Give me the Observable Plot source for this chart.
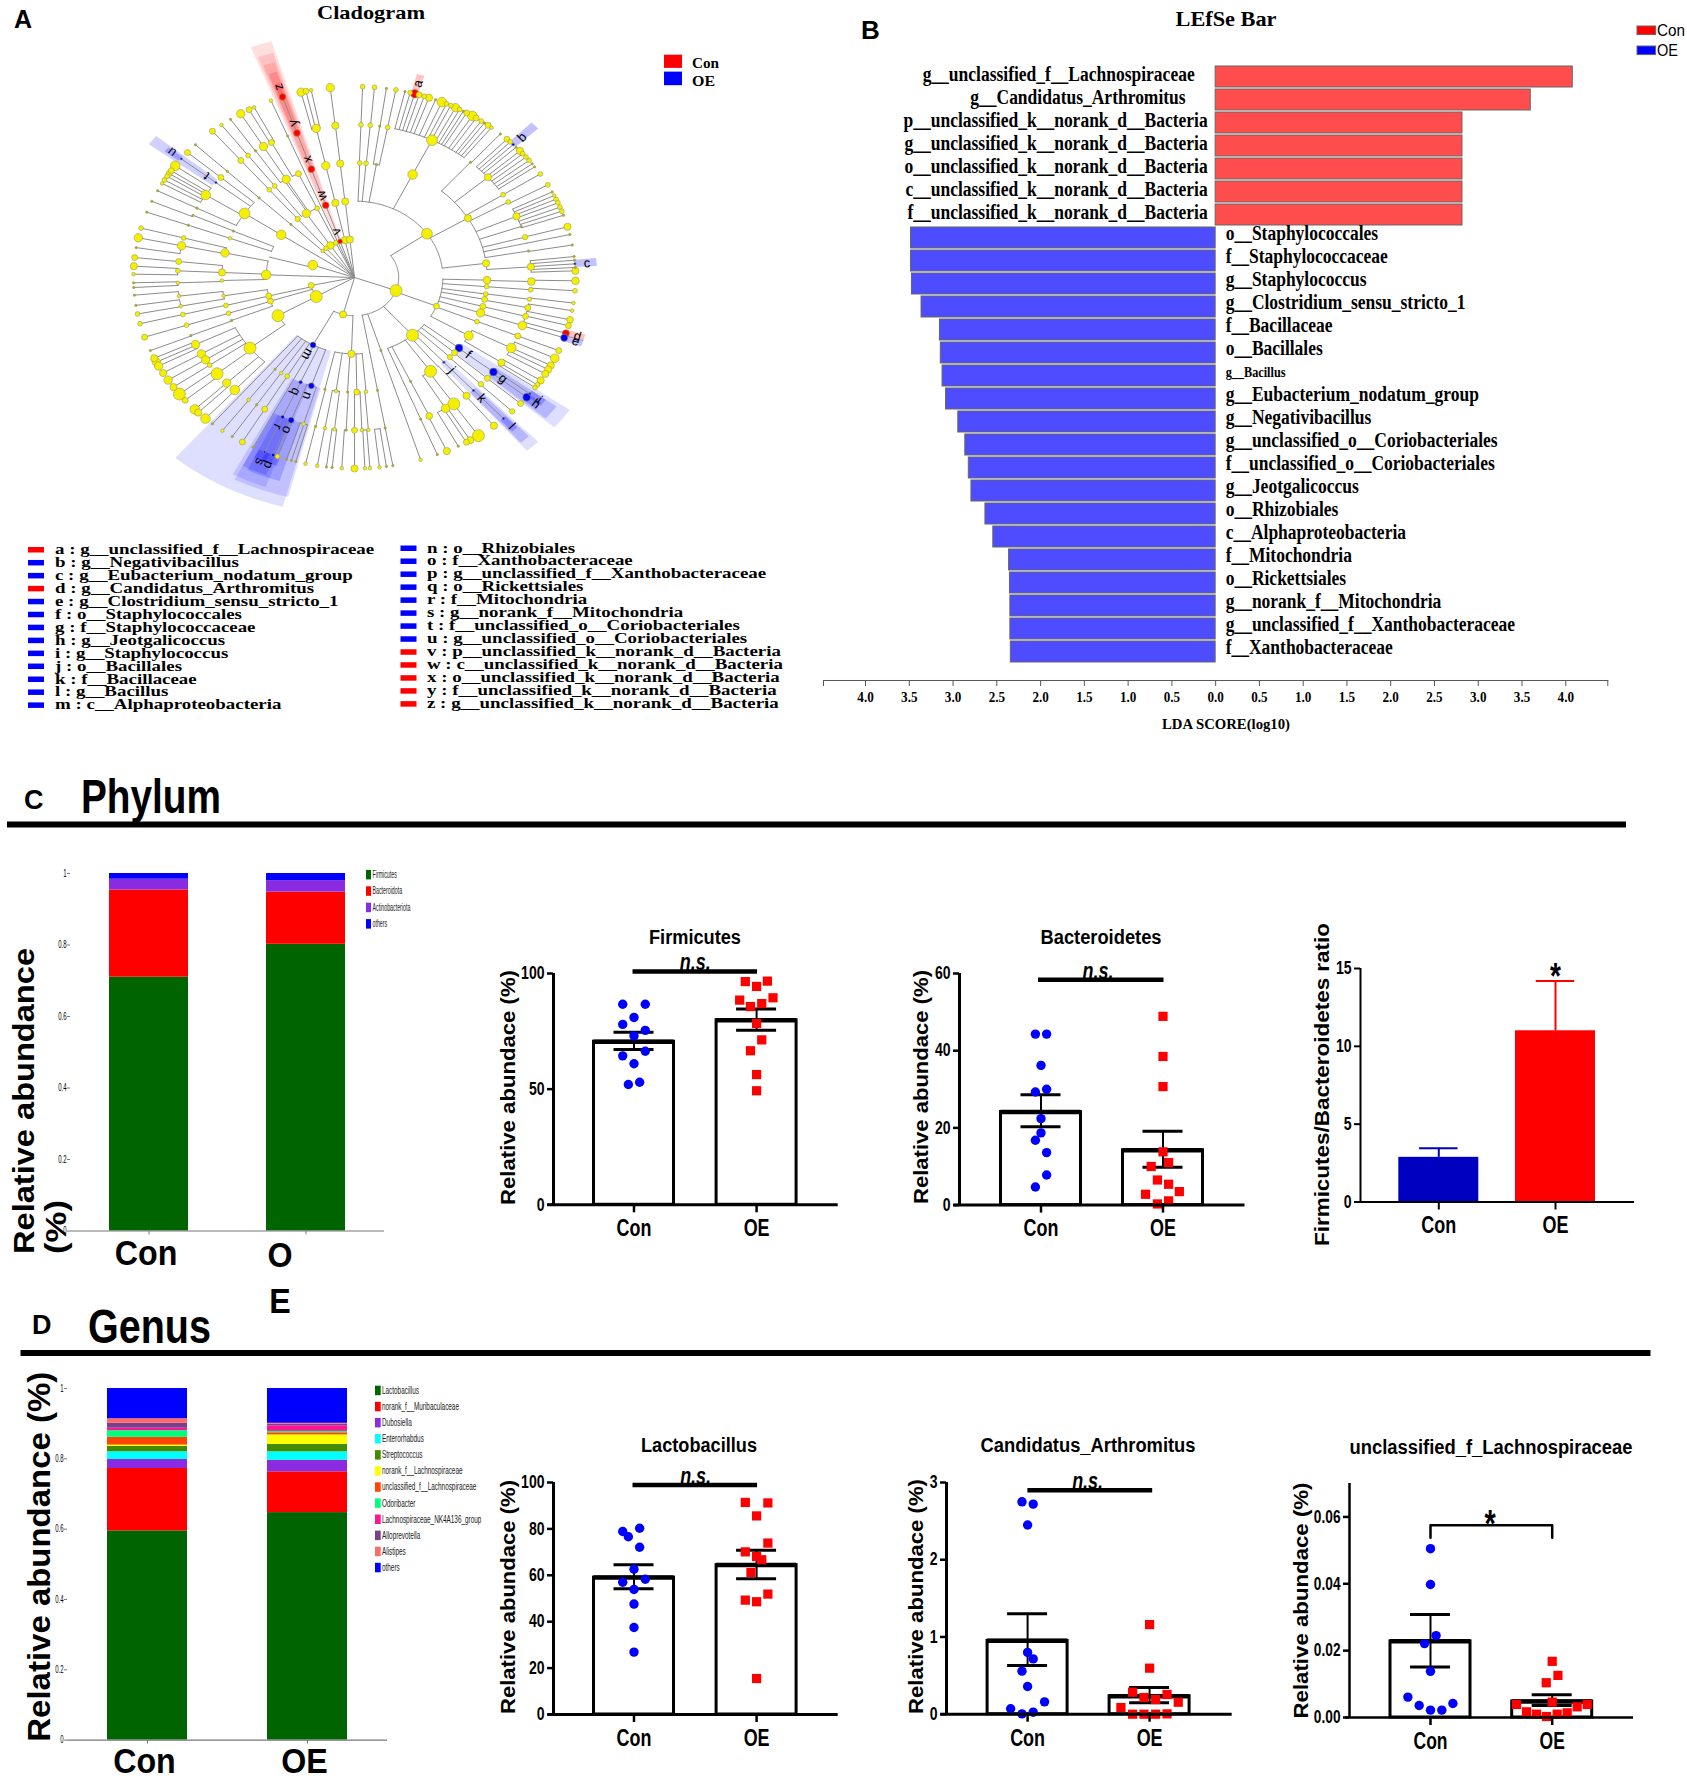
<!DOCTYPE html>
<html><head><meta charset="utf-8">
<script src="https://cdn.jsdelivr.net/npm/d3@7"></script>
<script src="https://cdn.jsdelivr.net/npm/@observablehq/plot@0.6"></script>
<style>
html,body{margin:0;padding:0;background:#fff}
#page{position:relative;width:1687px;height:1782px;overflow:hidden;background:#fff}
#page>svg,#page>div{position:absolute}
</style></head><body><div id="page"></div>
<script>
// ---------- DATA ----------
const groups = ["Con","OE"];
// Panel A: tree as [angle, abundance class, children, biomarker letter]
const cladeTree = [
 [110,5,[
  [55,4.5,[
   [2.3,2,[[2.1,2,[[2.1,2]]]]],
   [5,2,[[5.1,2,[[5.2,2]]]]],
   [9.5,1,[[8.2,1,[[8.3,1]]],[10.8,2,[[10.8,2]]]]],
   [26,4,[[26,4.5,[[13.2,1],[14.6,2],[15.8,3.5,[],"a"],[17,2.5],[18.4,2],[19.7,3],[21.5,1],[23.3,4],[24.6,2],[25.8,2],[27.2,3.5],[28.4,2],[29.5,1],[30.5,2.5],[32.2,4],[33.4,2.5],[35,2],[36,1],[37.2,2.5],[38.3,1.5]]]]],
   [58.8,3,[
    [41,1,[[41.3,1]]],
    [49,3,[[43.6,2.5],[44.8,2],[45.9,1.2,[],"b"],[47,1],[48.5,3],[49.6,2],[50.9,2],[52.2,2],[53.5,1],[54.6,1]]],
    [57.2,2,[[57.2,2]]],
    [60.4,2,[[61,2]]],
    [66.4,3,[[63.4,1],[64.6,1.5],[65.8,2],[67,2],[68.4,2],[69.7,2]]],
    [70.5,1,[[71,1]]],
    [74.7,2.2,[[74.6,3]]],
    [77,0,[[77,1]]],
    [80,1,[[80.2,1]]]]],
   [82.9,3,[[86,3,[[83.7,1],[84.8,1],[85.9,1,[],"c"],[87,1],[88,3]]]]]]],
  [112,2.5,[
   [91.3,3.2,[[91.5,3.2,[[91,3.2]]]]],
   [94.6,2,[[94.6,2,[[94,2]]]]],
   [98.3,2,[[98.2,1.8,[[97.7,1.5]]]]],
   [101,2.5,[[101.4,2.5,[[100,1.5]]]]],
   [104.6,2.5,[[104.7,2.5,[[102.8,2.8]]]]],
   [108,3.4,[[108.3,3.6,[[104.6,2.5],[107,3,[],"d"],[108.4,3,[],"e"]]]]],
   [112.6,2,[[112.5,2.5,[[112.5,2.5]]]]],
   [120.5,3.8,[[117.5,4,[[115,3.6],[117.4,3],[118.8,3],[120.3,3]]],[123.8,3,[[122.6,3],[124.2,2],[125.2,2]]]]]]],
  [139,5,[
   [128,3.3,[[128.2,3.3,[[127.5,1,[],"i"],[128.8,3.3,[],"h"]],"g"]],"f"],
   [131,2.5,[[131.3,2.5,[[131.3,2.5]]]]],
   [134,2.2,[[134.3,2.2,[[134.5,2.2]]]]],
   [137.6,1,[[137.7,1,[[137.6,1,[],"l"]],"k"]],"j"],
   [141,0,[[140.7,3,[[140.9,3]]]]],
   [145,5,[[145.8,5,[[145.9,5],[148.4,3]]],[149,3.5,[[149.6,2.5],[152,1]]]]],
   [155,1,[[155,2.8,[[155.3,3]]]]],
   [158,0,[[158,1,[[158,1]]]]]]],
  [162.6,1,[[162.6,0,[[162.6,0,[[162.6,1.5]]]]]]],
  [170,0,[[170,1,[[170,1,[[170,1]]]]]]]]],
 [195,3,[
  [182,3,[
   [192.9,1,[[192.7,1,[[192.8,1.5]]]]],
   [188,1.5,[[189.6,1.5,[[189.7,1.5]]],[186.5,1.5,[[187.3,1],[185.8,1]]]]],
   [183,1,[[182.7,1,[[183.3,1.5]]]]],
   [179,2.5,[[180,2.5,[[180,3]]],[177.6,1.5,[[177.3,1.5],[176,1.5]]]]],
   [175,1.5,[[175.5,1.5,[[173.5,1.5],[171.7,1]]]]]]],
  [208,2.5,[
   [199,2.5,[[201,2.5,[[201.6,1.5,[],"p"],[200.4,2]],"o"],[196.7,1.5,[[197.9,1],[196.6,1],[195.4,1]]]],"n"],
   [204,1.5,[[204,1.5,[[204,1,[],"s"]],"r"]],"q"],
   [207.3,0,[[207.3,0,[[207.3,1]]]]],
   [210.5,2,[[210.5,2.5,[[210.5,2.5]]]]],
   [213.5,1.5,[[213.6,1,[[213.6,1]]]]],
   [216.8,1,[[216.8,1.5,[[216.7,1.5]]]]],
   [220,0,[[220,0,[[220,1]]]]]],"m"]]],
 [240,5,[
  [240,5,[[232,5,[
    [244,3.5,[[245,3],[243.7,3.5],[242.4,3.5]]],
    [240,3.5,[[240,3]]],
    [237.4,3.5,[[237.5,3.5]]],
    [235,2,[[235,3]]],
    [231,5,[[232.4,5],[230,2.5]]],
    [226.3,3.5,[[226.3,4],[225,3]]],
    [222.6,4,[[222.4,4]]]]]]],
  [252,2.5,[[248,1,[[247.7,1,[[247.5,1]]]]],[251.8,2,[[251.8,2,[[251.8,2.5]]]]]]]]],
 [258,2.5,[[256,2.5,[[255.9,2,[[256,2,[[256,2]]]]],[260.8,1.5,[[259.2,1.5,[[259,2],[261.6,1]]],[263,1.5,[[264.7,1]]]]]]]]],
 [272,0,[[272,4,[
   [268.5,1.5,[[268,1.5,[[268.4,1],[267,1]]]]],
   [272.5,3,[[272.5,2,[[273.4,3],[271,1.5]]],[276,2.5,[[276,2.5]]]]],
   [282.4,3.5,[[282,3.5,[[282,3.5],[279,1]]],[285,2,[[285,2]]]]]]]]],
 [289,4,[[285.5,0,[[290,1.5,[[290,1,[[290,1]]]]],[293.9,1,[[294,1,[[293.5,1]]]]]]]]],
 [304,0,[[304,4,[[304,4.5,[
   [297,1,[[297,1]]],
   [302.7,4,[[299.5,1.5],[300.7,2],[302,2],[303,2.5],[304,2.5],[305.8,4]]],
   [308.4,1,[[308.4,1,[],"u"]],"t"],
   [310.9,2.5,[[310.9,2.5]]]]]]]]],
 [314,1.5,[[314,1,[[314,1,[[314,1,[[314,1]]]]]]]]],
 [320,2,[[320,2.2,[[320,2,[[320,2.5,[[320,2.5]]]]]]]]],
 [327,3.2,[[327,3.5,[[329,3.5,[[329,3.5,[[329,3.5]]]]]]]]],
 [335,2,[[335,2,[[335,2.5,[[332,2.5,[[331.5,2.5],[333,1.5]]]]],[323,2,[[323,2,[[323,1.5]]]]],[328,0,[[326,1,[[325.9,1]]]]]]]]],
 [337.8,0,[[337.8,0,[[337.8,0,[[337.8,1,[[337.8,1.5]]]]]]]]],
 [341,2,[[341,2.8,[[341,2.8,[[341,2.8,[[341,2.8,[],"z"]],"y"]],"x"]],"w"]],"v"],
 [347.5,3,[[347.5,3,[[347.5,3.5,[[347.5,3.5,[[346,3.5],[347.3,2.5],[348.7,1.5]]]]]]]]],
 [354,3,[[354,3,[[353.8,3,[[353.8,3,[[353.7,3.5]]]]]]]]]
];
const biomarkerCon = ["a","d","v","w","x","y","z"];
const wedgeLetters = ["m","n","o","p","q","r","s","f","g","h","i","j","k","l","t","u","v","w","x","y","z","a","b","c","d","e"];
const wedgeFrom    = [195,194.5,197.5,199.5,200,201,202.5,125.5,126.5,127.8,126.5,136,136.5,136.8,306.8,307.5,338.8,339.3,339.7,340,340.4,15,44.8,84.8,106,107.6];
const wedgeTo      = [220.5,207,205.5,203.5,208,207,205.5,131,130.5,130,128.5,139.3,139,138.5,309.5,309,343.2,342.7,342.3,342,341.6,16.8,47,87,108,109.5];
const wedgeOuter   = [1.245,1.19,1.12,1.05,1.17,1.11,1.05,1.2,1.14,1.07,1.08,1.2,1.15,1.08,1.16,1.08,1.29,1.23,1.18,1.13,1.07,1.1,1.14,1.1,1.09,1.09];
const legendLeft = ["a : g__unclassified_f__Lachnospiraceae","b : g__Negativibacillus","c : g__Eubacterium_nodatum_group","d : g__Candidatus_Arthromitus","e : g__Clostridium_sensu_stricto_1","f : o__Staphylococcales","g : f__Staphylococcaceae","h : g__Jeotgalicoccus","i : g__Staphylococcus","j : o__Bacillales","k : f__Bacillaceae","l : g__Bacillus","m : c__Alphaproteobacteria"];
const legendRight = ["n : o__Rhizobiales","o : f__Xanthobacteraceae","p : g__unclassified_f__Xanthobacteraceae","q : o__Rickettsiales","r : f__Mitochondria","s : g__norank_f__Mitochondria","t : f__unclassified_o__Coriobacteriales","u : g__unclassified_o__Coriobacteriales","v : p__unclassified_k__norank_d__Bacteria","w : c__unclassified_k__norank_d__Bacteria","x : o__unclassified_k__norank_d__Bacteria","y : f__unclassified_k__norank_d__Bacteria","z : g__unclassified_k__norank_d__Bacteria"];
// Panel B
const ldaNames = ["g__unclassified_f__Lachnospiraceae","g__Candidatus_Arthromitus","p__unclassified_k__norank_d__Bacteria","g__unclassified_k__norank_d__Bacteria","o__unclassified_k__norank_d__Bacteria","c__unclassified_k__norank_d__Bacteria","f__unclassified_k__norank_d__Bacteria","o__Staphylococcales","f__Staphylococcaceae","g__Staphylococcus","g__Clostridium_sensu_stricto_1","f__Bacillaceae","o__Bacillales","g__Bacillus","g__Eubacterium_nodatum_group","g__Negativibacillus","g__unclassified_o__Coriobacteriales","f__unclassified_o__Coriobacteriales","g__Jeotgalicoccus","o__Rhizobiales","c__Alphaproteobacteria","f__Mitochondria","o__Rickettsiales","g__norank_f__Mitochondria","g__unclassified_f__Xanthobacteraceae","f__Xanthobacteraceae"];
const ldaScores = [4.08,3.6,2.82,2.82,2.82,2.82,2.82,-3.48,-3.48,-3.47,-3.36,-3.15,-3.14,-3.12,-3.08,-2.94,-2.86,-2.82,-2.79,-2.63,-2.54,-2.36,-2.35,-2.345,-2.345,-2.34];
// Stacks
const phylumTaxa = ["Firmicutes","Bacteroidota","Actinobacteriota","others"];
const phylumColors = ["#006400","#ff0000","#8a2be2","#0000ff"];
const phylumCon = [.71,.244,.03,.016];
const phylumOE = [.802,.146,.032,.02];
const genusTaxa = ["Lactobacillus","norank_f__Muribaculaceae","Dubosiella","Enterorhabdus","Streptococcus","norank_f__Lachnospiraceae","unclassified_f__Lachnospiraceae","Odoribacter","Lachnospiraceae_NK4A136_group","Alloprevotella","Alistipes","others"];
const genusColors = ["#006400","#ff0000","#8a2be2","#00ffff","#458b00","#ffff00","#ff4500","#00ff7f","#ff1493","#7b3f8f","#ff6a6a","#0000ff"];
const genusCon = [.595,.1775,.0255,.022,.015,.004,.022,.019,.007,.014,.013,.086];
const genusOE = [.647,.116,.033,.024,.021,.027,.006,.004,.016,.004,.003,.099];
// Dot + bar panels
const firmConOff=[-.092,.092,0,-.092,.092,0,.092,-.092,0,.046,-.046], firmConVal=[86.7,86.7,81,78,75.4,73,66.4,64.4,61,53,52];
const firmOEOff=[-.092,.088,0,.134,-.138,.042,-.05,0,.042,-.05,0,0], firmOEVal=[96.5,96.7,94.4,89.5,88.5,87,85.7,78.4,71.3,66.6,56.3,49.3];
const firmMean=[70.5,79.8], firmLow=[67.1,75.5], firmHigh=[74.6,84.6];
const bactConOff=[-.046,.046,0,.046,-.046,0,0,-.046,.046,.046,-.046], bactConVal=[44.3,44.3,36.2,30,29.3,22.4,18.7,16.8,13.6,7.8,4.7];
const bactOEOff=[0,0,0,0,.046,-.097,-.046,.046,.134,-.143,.046,-.046], bactOEVal=[48.9,38.5,30.7,13.8,11,10,6.5,5.4,3.5,2.8,1.1,.3];
const bactMean=[24.1,14.2], bactLow=[20.3,9.8], bactHigh=[28.6,19.1];
const lactConOff=[.046,-.092,-.046,.046,0,.092,-.092,0,0,0,0], lactConVal=[80.3,78.9,76.6,72.1,62.6,58.3,57,53.9,47.6,37.5,26.9];
const lactOEOff=[-.092,.092,0,.092,-.092,0,.042,-.046,.092,-.092,0,0], lactOEVal=[91.4,91.2,85.6,73.9,70.1,68.1,66.7,61.2,51.9,49.3,48.6,15.5];
const lactMean=[59,64.4], lactLow=[54.2,58.5], lactHigh=[64.5,70.8];
const candConOff=[-.046,.046,0,0,.046,-.046,0,.139,-.139,.046,-.046], candConVal=[2.75,2.72,2.45,.8,.716,.557,.358,.16,.07,.026,.004];
const candOEOff=[0,0,-.139,.143,-.046,.05,.235,-.235,-.139,-.046,.05,.143], candOEVal=[1.16,.596,.285,.255,.216,.19,.155,.086,0,0,0,.004];
const candMean=[.95,.233], candLow=[.63,.147], candHigh=[1.3,.345];
const unclConOff=[0,0,.046,-.049,0,-.186,-.093,.184,0,.093], unclConVal=[.0505,.0398,.0245,.0221,.0138,.0061,.0036,.0042,.0022,.0022];
const unclOEOff=[0,.047,-.049,0,-.293,.288,.205,-.211,.123,.041,-.129,-.047], unclOEVal=[.0168,.0126,.0104,.0046,.0039,.0039,.0032,.0017,.0014,.001,.001,.0003];
const unclMean=[.0228,.0048], unclLow=[.0151,.0036], unclHigh=[.0308,.0068];
const ratioMean=[2.87,11], ratioHigh=[3.45,14.2];

// ---------- HELPERS ----------
const SANS='"Liberation Sans",Arial,sans-serif', SERIF='"Liberation Serif","Times New Roman",serif';
const page=document.getElementById("page");
const ov=d3.select(page).append("svg").attr("width",1687).attr("height",1782).style("left",0).style("top",0).style("z-index",2).style("pointer-events","none");
function fit(t,len,k){const L=len||t.getComputedTextLength()*k;t.setAttribute("textLength",L);t.setAttribute("lengthAdjust","spacingAndGlyphs");}
function T(x,y,s,o={}){
  const t=ov.append("text").attr("x",x).attr("y",y).text(s).attr("font-family",o.f||SANS).attr("font-size",o.s||16)
    .attr("font-weight",o.w||"bold").attr("text-anchor",o.a||"start").attr("fill",o.c||"#000");
  if(o.i)t.attr("font-style","italic");
  if(o.r!=null)t.attr("transform",`rotate(${o.r} ${x} ${y})`);
  if(o.len||o.k)fit(t.node(),o.len,o.k);
  return t;
}
function box(x,y,w,h,c,st){const r=ov.append("rect").attr("x",x).attr("y",y).attr("width",w).attr("height",h).attr("fill",c);if(st)r.attr("stroke",st).attr("stroke-width",1);}
function place(svg,left,top,k){
  svg.style.left=left+"px";svg.style.top=top+"px";svg.style.overflow="visible";svg.style.background="transparent";
  page.appendChild(svg);
  if(k)svg.querySelectorAll("text").forEach(t=>{
    const sp=t.querySelectorAll("tspan");
    const kk=typeof k==="function"?k(t):k;
    (sp.length?[...sp]:[t]).forEach(e=>{if(e.textContent)fit(e,null,kk);});
  });
}

// ---------- PANEL A ----------
const RX=221,RY=191,CX=354.3,CY=276.7;
const rad=a=>a*Math.PI/180;
const pol=(a,r)=>({x:r*Math.sin(rad(a)),y:r*Math.cos(rad(a))});
const nodes=[],segs=[];let sid=0;
function walk(n,level){
  const [a,size,kids,letter]=n, r=level*.2, r0=(level-1)*.2;
  const id0=sid++;
  segs.push({id:id0,...pol(a,r0)},{id:id0,...pol(a,r)});
  nodes.push({a,r,size,letter});
  if(kids&&kids.length){
    const as=kids.map(k=>k[0]).concat(kids.length>1?[]:[a]);
    const lo=d3.min(as),hi=d3.max(as);
    if(hi-lo>.01){const id=sid++;
      for(let t=lo;;t+=1.5){const q=Math.min(t,hi);segs.push({id,...pol(q,r)});if(q>=hi)break;}
    }
    kids.forEach(k=>walk(k,level+1));
  }
}
cladeTree.forEach(n=>walk(n,1));
const byLetter=new Map(nodes.filter(d=>d.letter).map(d=>[d.letter,d]));
const wedgePts=[];
wedgeLetters.forEach((l,i)=>{
  const n=byLetter.get(l), depth=Math.round(n.r/.2), op=depth>=5?.24:depth===4?.18:.13;
  for(let t=wedgeFrom[i];;t+=1){const q=Math.min(t,wedgeTo[i]);
    const p=pol(q,n.r),o=pol(q,wedgeOuter[i]);
    wedgePts.push({id:l,x1:p.x,y1:p.y,x2:o.x,y2:o.y,op,c:biomarkerCon.includes(l)?"#ff0000":"#0000ff"});
    if(q>=wedgeTo[i])break;}
});
const nodeColor=d=>d.letter?(biomarkerCon.includes(d.letter)?"#ff0000":"#0000ff"):(d.size<=1?"#b0ad20":"#f5f000");
const W=600,H=540;
place(Plot.plot({width:W,height:H,margin:0,
  x:{domain:[-W/2/RX,W/2/RX],axis:null},y:{domain:[-H/2/RY,H/2/RY],axis:null},
  r:{type:"linear",domain:[0,5],range:[0,6]},
  marks:[
   Plot.area(wedgePts,{x1:"x1",y1:"y1",x2:"x2",y2:"y2",z:"id",fill:"c",fillOpacity:"op"}),
   Plot.line(segs,{x:"x",y:"y",z:"id",stroke:"#8c8c8c",strokeWidth:1}),
   Plot.dot(nodes.filter(d=>d.size>0),{x:d=>pol(d.a,d.r).x,y:d=>pol(d.a,d.r).y,r:"size",fill:nodeColor,stroke:"#9a9a60",strokeWidth:.6}),
   Plot.text(nodes.filter(d=>d.letter),{x:d=>pol(d.a,d.r+.055).x,y:d=>pol(d.a,d.r+.055).y,text:"letter",rotate:d=>d.a-90,fontSize:13,fontFamily:SANS,fill:"#000"})
  ]}),CX-W/2,CY-H/2);
T(371,19,"Cladogram",{f:SERIF,s:19,a:"middle",len:108});
T(14,28,"A",{s:25});
box(664,54.7,18,13.2,"#ff0000");box(664,71.6,18,13.6,"#0000ff");
T(692,68,"Con",{f:SERIF,s:14,len:27});T(692,85.5,"OE",{f:SERIF,s:14,len:23});
legendLeft.forEach((s,i)=>{const y=550+i*12.95,c=biomarkerCon.includes(s[0])?"#ff0000":"#0000ff";
  box(28,y-3,16,5.5,c);T(55,y+4,s,{f:SERIF,s:15,k:1.26});});
legendRight.forEach((s,i)=>{const y=548.5+i*12.97,c=biomarkerCon.includes(s[0])?"#ff0000":"#0000ff";
  box(400.5,y-3,16,5.5,c);T(427,y+4,s,{f:SERIF,s:15,k:1.26});});

// ---------- PANEL B ----------
const ldaRows=ldaNames.map((n,i)=>({name:n,score:ldaScores[i],grp:ldaScores[i]>0?"Con":"OE",i}));
const B0=-4.48,B1=4.48,bFont={fontFamily:SERIF,fontWeight:"bold",fontSize:20};
const bTicks=[B0].concat(d3.range(-8,9).map(d=>d/2),[B1]);
place(Plot.plot({width:784.3,height:650,marginLeft:0,marginRight:0,marginTop:1,marginBottom:30,insetBottom:13,
  x:{domain:[B0,B1]},y:{domain:ldaNames,padding:.08,axis:null},
  color:{domain:["Con","OE"],range:["#ff4d4d","#4d4dff"]},
  marks:[
   Plot.barX(ldaRows,{x:"score",y:"name",fill:"grp",stroke:"#666",strokeWidth:1}),
   Plot.text(ldaRows.filter(d=>d.i>=2&&d.i<7),{x:()=>0,y:"name",text:"name",textAnchor:"end",dx:-8,dy:-2,...bFont}),
   Plot.text(ldaRows.filter(d=>d.i===0),{x:()=>0,y:"name",text:"name",textAnchor:"end",dx:-21,dy:-2,...bFont}),
   Plot.text(ldaRows.filter(d=>d.i===1),{x:()=>0,y:"name",text:"name",textAnchor:"end",dx:-30,dy:-2,...bFont}),
   Plot.text(ldaRows.filter(d=>d.i>=7&&d.name!=="g__Bacillus"),{x:()=>0,y:"name",text:"name",textAnchor:"start",dx:10,dy:-4,...bFont}),
   Plot.text(ldaRows.filter(d=>d.name==="g__Bacillus"),{x:()=>0,y:"name",text:"name",textAnchor:"start",dx:10,dy:-3,...bFont,fontSize:14}),
   Plot.frame({anchor:"bottom",stroke:"#555"}),
   Plot.axisX({ticks:bTicks,tickFormat:d=>Math.abs(d)>4.2?"":Math.abs(d).toFixed(1),tickSize:6,tickPadding:5,label:null,stroke:"#555",fontFamily:SERIF,fontWeight:"bold",fontSize:15})
  ]}),822.7,60,.875);
T(1226,26,"LEfSe Bar",{f:SERIF,s:22,a:"middle",len:101});
T(861,39,"B",{s:26});
T(1226,729,"LDA SCORE(log10)",{f:SERIF,s:15,a:"middle",len:128});
box(1637,26,18.6,8.6,"#ff0000","#666");box(1637,46,18.6,8.6,"#0000ff","#666");
T(1657,36,"Con",{w:"normal",s:16,len:28});T(1657,56,"OE",{w:"normal",s:16,len:21});

// ---------- SECTION HEADERS ----------
const ruleBar=(x,y,w)=>box(x,y-3,w,6,"#000");
T(24,809,"C",{s:27});T(81,813,"Phylum",{s:49,len:140});ruleBar(7,824.5,1619);
T(32,1334,"D",{s:27});T(88,1343,"Genus",{s:49,len:123});ruleBar(20.5,1353,1630);

// ---------- STACKED BARS ----------
const stackFit=t=>{const g=t.closest("[font-size]");return g&&+g.getAttribute("font-size")>20?.92:.6;};
function stack(cfg){
  const {taxa,colors,con,oe,L,R,top,bot,extra}=cfg;
  const rows=[];taxa.forEach((t,i)=>{rows.push({g:"Con",t,v:con[i],i});rows.push({g:"OE",t,v:oe[i],i});});
  const ml=30,mt=10,mb=100,mr=10;
  place(Plot.plot({width:R-L+ml+mr,height:bot-top+mt+mb,marginLeft:ml,marginRight:mr,marginTop:mt,marginBottom:mb,
    x:{domain:groups,paddingInner:.5,paddingOuter:.25,axis:null},
    y:{domain:[0,1],axis:null},
    color:{domain:taxa,range:colors},
    marks:[
     Plot.barY(rows,{x:"g",y:"v",fill:"t",order:"i"}),
     Plot.ruleX([0],{frameAnchor:"left",x:()=>undefined,y1:()=>0,y2:()=>1,stroke:"#888",strokeWidth:1.5}),
     Plot.ruleY([0],{stroke:"#777",strokeWidth:1.2}),
     Plot.axisY({ticks:[0,.2,.4,.6,.8,1],tickSize:3,tickPadding:1,label:null,stroke:"#777",fontSize:10,fontFamily:SANS,fontWeight:"normal",tickFormat:d=>String(d)}),
     Plot.axisX({tickSize:4,label:null,stroke:"#777",tickFormat:()=>null}),
     ...extra
    ]}),L-ml,top-mt,stackFit);
}
const bigTick={label:null,tickSize:0,fontFamily:SANS,fontWeight:"bold",fontSize:35};
stack({taxa:phylumTaxa,colors:phylumColors,con:phylumCon,oe:phylumOE,L:70,R:384,top:872.5,bot:1230,extra:[
  Plot.axisX({...bigTick,ticks:["Con"],dx:-3,tickPadding:9,tickFormat:d=>d}),
  Plot.axisX({...bigTick,ticks:["OE"],dx:-26,tickPadding:4,lineHeight:1.3,tickFormat:()=>"O\nE"})
]});
stack({taxa:genusTaxa,colors:genusColors,con:genusCon,oe:genusOE,L:67,R:387,top:1387.7,bot:1739.3,extra:[
  Plot.axisX({...bigTick,ticks:groups,dx:-3,tickPadding:8,tickFormat:d=>d})
]});
T(33.5,1254,"Relative abundance",{s:29,r:-90,len:306});
T(66,1254,"(%)",{s:29,r:-90,len:54});
T(50,1741.7,"Relative abundance (%)",{s:31,r:-90,len:370});
phylumTaxa.forEach((t,i)=>{const y=874.5+i*16.4;box(366,y-4.6,5,9.5,phylumColors[i]);T(372.5,y+3.5,t,{s:11,w:"normal",k:.48,c:"#222"});});
genusTaxa.forEach((t,i)=>{const y=1390.3+i*16.1;box(375,y-4.6,5.7,9.5,genusColors[i]);T(382,y+3.5,t,{s:11,w:"normal",k:.58,c:"#222"});});

// ---------- BAR + DOT PANELS ----------
function dotBar(c){
  const unit=c.t1-c.t0, X=p=>(p-c.t0)/unit;
  const ml=70,mr=10,mt=12,mb=50;
  const half=40/unit, cap=c.cap||20/unit;
  const rows=groups.map((g,i)=>({i,m:c.mean[i],lo:c.low?c.low[i]:c.mean[i],hi:c.high[i]}));
  const ptsA=(c.conOff||[]).map((o,j)=>({x:o,y:c.conVal[j]}));
  const ptsB=(c.oeOff||[]).map((o,j)=>({x:1+o,y:c.oeVal[j]}));
  const f={fontFamily:SANS,fontWeight:"bold"};
  const fill=c.fills;
  const marks=[
    fill
     ? Plot.rectY(rows,{x1:d=>d.i-half,x2:d=>d.i+half,y1:()=>0,y2:"m",fill:d=>fill[d.i]})
     : Plot.rectY(rows,{x1:d=>d.i-half,x2:d=>d.i+half,y1:()=>0,y2:"m",fill:"none",stroke:"#000",strokeWidth:3}),
    ...(fill?[]:[Plot.ruleY(rows,{y:"m",x1:d=>d.i-half,x2:d=>d.i+half,stroke:"#000",strokeWidth:4.5})]),
    Plot.ruleX(rows,{x:"i",y1:"lo",y2:"hi",stroke:fill?(d=>fill[d.i]):"#000",strokeWidth:2}),
    Plot.ruleY(rows,{y:"hi",x1:d=>d.i-cap,x2:d=>d.i+cap,stroke:fill?(d=>fill[d.i]):"#000",strokeWidth:fill?2:3}),
    ...(fill?[]:[Plot.ruleY(rows,{y:"lo",x1:d=>d.i-cap,x2:d=>d.i+cap,stroke:"#000",strokeWidth:3})]),
    Plot.dot(ptsA,{x:"x",y:"y",fill:"#0000ff",r:4.7}),
    Plot.dot(ptsB,{x:"x",y:"y",fill:"#ff0000",r:5.2,symbol:"square"}),
    Plot.ruleX([{v:0}],{frameAnchor:"left",y1:()=>0,y2:()=>c.ymax,x:()=>X(c.axisX),stroke:"#000",strokeWidth:c.sw||3}),
    Plot.ruleY([{v:0}],{y:()=>0,x1:()=>X(c.start),x2:()=>X(c.end),stroke:"#000",strokeWidth:c.sw||3}),
    Plot.axisY({ticks:c.ticks,tickSize:6,tickPadding:3,label:null,strokeWidth:c.sw||2.5,fontSize:c.tf||18,...f,tickFormat:c.fmt||(d=>String(d))}),
    Plot.axisX({ticks:[0,1],tickSize:8,tickPadding:7,label:null,strokeWidth:c.sw||2.5,fontSize:23,...f,tickFormat:i=>groups[i]}),
  ];
  if(c.sig!=null){
    marks.push(Plot.ruleY([{y:c.sig}],{y:"y",x1:()=>X(c.sigL),x2:()=>X(c.sigR),stroke:"#000",strokeWidth:4.5}));
    marks.push(Plot.text([{y:c.sig}],{x:()=>X(c.nsX),y:"y",text:()=>"n.s.",lineAnchor:"bottom",dy:-1,fontFamily:SANS,fontWeight:"bold",fontStyle:"italic",fontSize:23}));
  }
  if(c.extra)marks.push(...c.extra(X));
  place(Plot.plot({width:c.end-c.axisX+ml+mr,height:c.yBot-c.yTop+mt+mb,marginLeft:ml,marginRight:mr,marginTop:mt,marginBottom:mb,
    x:{domain:[X(c.axisX),X(c.end)],axis:null},y:{domain:[0,c.ymax],axis:null},marks}),c.axisX-ml,c.yTop-mt,c.k||.78);
}
dotBar({axisX:553.3,start:547.7,end:838,t0:633.8,t1:756.4,yTop:972.7,yBot:1204,ymax:100,ticks:[0,50,100],
  mean:firmMean,low:firmLow,high:firmHigh,conOff:firmConOff,conVal:firmConVal,oeOff:firmOEOff,oeVal:firmOEVal,
  sig:100.9,sigL:632.8,sigR:757.4,nsX:695});
dotBar({axisX:958.5,start:952.8,end:1244,t0:1040,t1:1162,yTop:972.7,yBot:1204.3,ymax:60,ticks:[0,20,40,60],
  mean:bactMean,low:bactLow,high:bactHigh,conOff:bactConOff,conVal:bactConVal,oeOff:bactOEOff,oeVal:bactOEVal,
  sig:58.4,sigL:1037.5,sigR:1163,nsX:1097});
dotBar({axisX:553.3,start:547.7,end:838,t0:633.8,t1:756.4,yTop:1481.7,yBot:1713.7,ymax:100,ticks:[0,20,40,60,80,100],
  mean:lactMean,low:lactLow,high:lactHigh,conOff:lactConOff,conVal:lactConVal,oeOff:lactOEOff,oeVal:lactOEVal,
  sig:98.9,sigL:632.8,sigR:757.4,nsX:695.4});
dotBar({axisX:945.6,start:940,end:1231.3,t0:1026.7,t1:1148.7,yTop:1482,yBot:1713.7,ymax:3,ticks:[0,1,2,3],
  mean:candMean,low:candLow,high:candHigh,conOff:candConOff,conVal:candConVal,oeOff:candOEOff,oeVal:candOEVal,
  sig:2.9,sigL:1027,sigR:1151.8,nsX:1086.7});
dotBar({axisX:1360,start:1355,end:1634,t0:1438.3,t1:1555,yTop:968.4,yBot:1201.9,ymax:15,ticks:[0,5,10,15],sw:2,cap:.165,
  mean:ratioMean,high:ratioHigh,fills:["#0000c0","#ff0000"],
  extra:()=>[Plot.text([{x:1,y:14.9}],{x:"x",y:"y",text:()=>"*",fontFamily:SANS,fontWeight:"bold",fontSize:36,lineAnchor:"top",dy:-7})]});
dotBar({axisX:1349,start:1345,end:1633,t0:1430,t1:1551.7,yTop:1483.4,yBot:1717.4,ymax:.07,ticks:[0,.02,.04,.06],sw:2.5,tf:18,k:.76,
  fmt:d3.format(".2f"),
  mean:unclMean,low:unclLow,high:unclHigh,conOff:unclConOff,conVal:unclConVal,oeOff:unclOEOff,oeVal:unclOEVal,
  extra:()=>[
    Plot.line([{x:0,y:.0538},{x:0,y:.0575},{x:1,y:.0575},{x:1,y:.0538}],{x:"x",y:"y",stroke:"#000",strokeWidth:2.5}),
    Plot.text([{x:.49,y:.0575}],{x:"x",y:"y",text:()=>"*",fontFamily:SANS,fontWeight:"bold",fontSize:38,lineAnchor:"top",dy:-15})
  ]});
const ylab=(x,y,len,s)=>T(x,y,s||"Relative abundace (%)",{s:20,r:-90,len});
ylab(515,1205,235);ylab(928,1204,234);
ylab(515,1714,234);ylab(923,1714,235);
ylab(1308,1718.5,236);
T(1329,1246,"Firmicutes/Bacteroidetes ratio",{s:20,r:-90,len:323});
const ttl=(x,y,s,len)=>T(x,y,s,{s:20,a:"middle",len});
ttl(695,944,"Firmicutes",92);ttl(1101,944,"Bacteroidetes",121);
ttl(699,1452,"Lactobacillus",116);ttl(1088,1452,"Candidatus_Arthromitus",215);
ttl(1491,1454,"unclassified_f_Lachnospiraceae",283);
</script></body></html>
